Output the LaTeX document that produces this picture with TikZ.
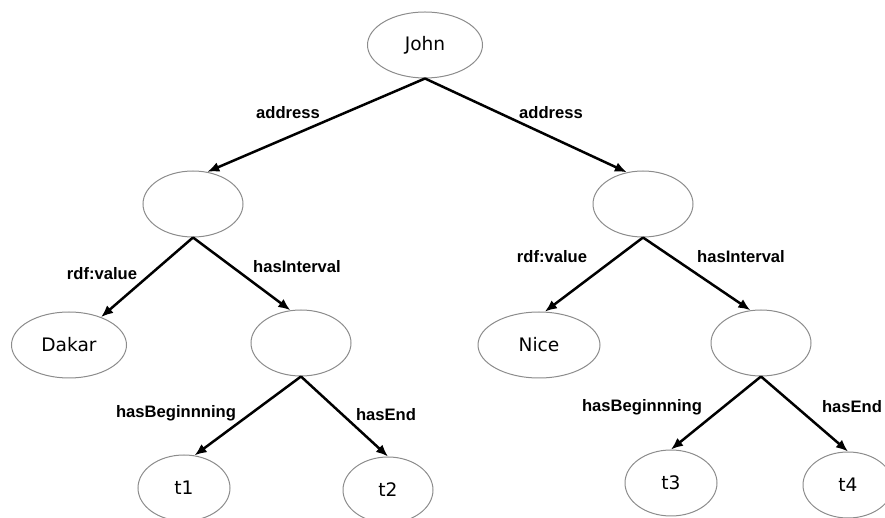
\documentclass[tikz,border=0pt]{standalone}
\usepackage{fontspec}
\setmainfont{DejaVu Sans}
\newfontfamily\lblfont{Liberation Sans}
\usetikzlibrary{shapes.geometric,arrows.meta}
\begin{document}
\begin{tikzpicture} [x=0.5pt,y=-0.5pt,
    res/.style={ellipse,draw=black!45,line width=0.5pt,inner sep=0pt,
                minimum width=50pt,minimum height=33pt,font=\fontsize{9.3}{11}\selectfont},
    prop/.style={font=\lblfont\bfseries\fontsize{8.3}{10}\selectfont,inner sep=0pt},
    rel/.style={line width=1.25pt,-{Latex[length=6pt,width=5pt]}}]
        \useasboundingbox (0,0) rectangle (885,518);
        \node[res,minimum width=57.5pt] (john) at (425,45) {John};
        \node[res] (m1) at (193,204) {};
        \node[res] (m2) at (643,204) {};
        \node[res,minimum width=57.5pt] (dakar) at (69,345) {Dakar};
        \node[res] (iv1) at (301,343) {};
        \node[res,minimum width=61pt] (nice) at (539,345) {Nice};
        \node[res] (iv2) at (761,343) {};
        \node[res,minimum width=46pt] (t1) at (184,488) {t1};
        \node[res,minimum width=45pt] (t2) at (388,490) {t2};
        \node[res,minimum width=46pt] (t3) at (671,483) {t3};
        \node[res,minimum width=45pt] (t4) at (848,485) {t4};
%        edges
        \draw [rel] (john.south) -- (m1.66);
        \draw [rel] (john.south) -- (m2.117);
        \draw [rel] (m1.south) -- (dakar.41);
        \draw [rel] (m1.south) -- (iv1.108);
        \draw [rel] (m2.south) -- (nice.80);
        \draw [rel] (m2.south) -- (iv2.108);
        \draw [rel] (iv1.south) -- (t1.72);
        \draw [rel] (iv1.south) -- (t2.north);
        \draw [rel] (iv2.south) -- (t3.north);
        \draw [rel] (iv2.south) -- (t4.north);
%        labels
      \node[prop] (l1) at (288,113) {address};
      \node[prop] (l2) at (551,113) {address};
      \node[prop] (l3) at (102,274) {rdf:value};
      \node[prop] (l4) at (297,267) {hasInterval};
      \node[prop] (l5) at (552,257) {rdf:value};
      \node[prop] (l6) at (741,257) {hasInterval};
      \node[prop] (l7) at (176,413) {hasBeginnning};
      \node[prop] (l8) at (386,415) {hasEnd};
      \node[prop] (l9) at (642,407) {hasBeginnning};
      \node[prop] (l10) at (852,407) {hasEnd};
    \end{tikzpicture}
\end{document}
